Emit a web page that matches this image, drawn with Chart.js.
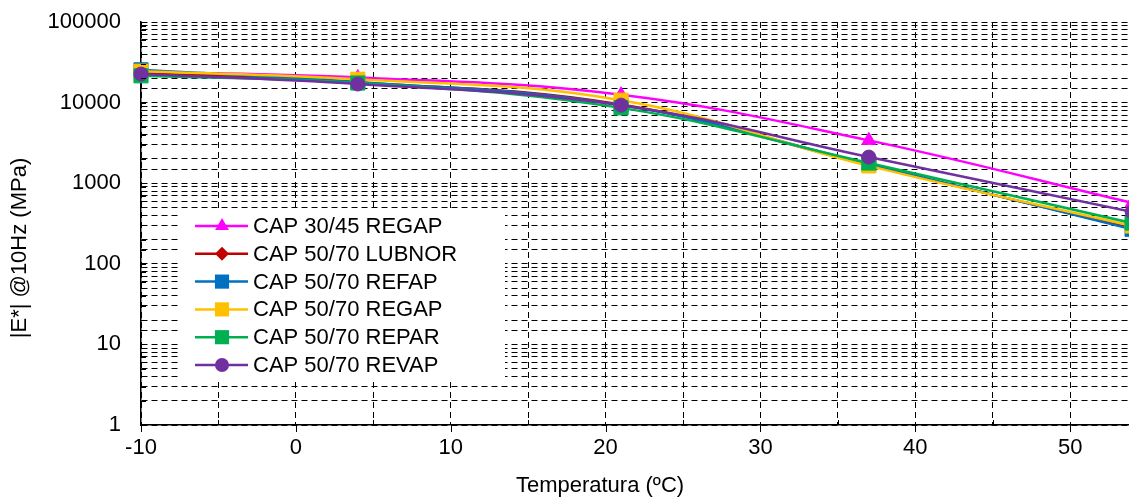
<!DOCTYPE html>
<html lang="pt">
<head>
    <meta charset="UTF-8">
    <title>|E*| @10Hz x Temperatura</title>
    <script src="https://cdn.jsdelivr.net/npm/chart.js"></script>
    <style>
        body {
            margin: 0;
            background: #ffffff;
            overflow: hidden;
        }

        canvas {
            display: block;
        }
    </style>
</head>
<body>
    <canvas id="grafico" width="1129" height="500"></canvas>

    <script>
        // Dados
        const temperaturas = [-10, 4, 21, 37, 54];
        const nomes = ['CAP 30/45 REGAP', 'CAP 50/70 LUBNOR', 'CAP 50/70 REFAP', 'CAP 50/70 REGAP', 'CAP 50/70 REPAR', 'CAP 50/70 REVAP'];
        const regap3045 = [24000, 20500, 12500, 3400, 570];
        const lubnor = [23500, 17800, 9500, 1690, 275];
        const refap = [25500, 18000, 9300, 1720, 268];
        const regap5070 = [24500, 19500, 10700, 1640, 295];
        const repar = [21500, 17500, 8600, 1780, 320];
        const revap = [22600, 17000, 9300, 2110, 440];

        const xTicks = [-10, -5, 0, 5, 10, 15, 20, 25, 30, 35, 40, 45, 50];
        const xTickLabels = [-10, 0, 10, 20, 30, 40, 50];
        const yTickLabels = [1, 10, 100, 1000, 10000, 100000];
        const tituloX = 'Temperatura (ºC)';
        const tituloY = '|E*| @10Hz (MPa)';

        const cores = ['#FF00FF', '#C00000', '#0070C0', '#FFC000', '#00B050', '#7030A0'];
        const marcadores = ['triangle', 'rectRot', 'rect', 'rect', 'rect', 'circle'];
        const raios = [8, 7, 10, 10, 10, 7];
        const series = [regap3045, lubnor, refap, regap5070, repar, revap];

        const fonte = "'Liberation Sans', Arial, sans-serif";

        const datasets = series.map((valores, i) => ({
            label: nomes[i],
            data: temperaturas.map((t, j) => ({ x: t, y: valores[j] })),
            borderColor: cores[i],
            backgroundColor: cores[i],
            borderWidth: 2.5,
            pointStyle: marcadores[i],
            pointRadius: raios[i],
            pointBorderWidth: 1,
            pointBackgroundColor: cores[i],
            pointBorderColor: cores[i],
            tension: 0.4,
            clip: false,
            order: series.length - i
        }));

        function desenhaMarcador(ctx, estilo, x, y, r) {
            ctx.beginPath();
            if (estilo === 'circle') {
                ctx.arc(x, y, r, 0, Math.PI * 2);
            } else if (estilo === 'rect') {
                const s = Math.SQRT1_2 * r;
                ctx.rect(x - s, y - s, 2 * s, 2 * s);
            } else if (estilo === 'rectRot') {
                ctx.moveTo(x, y - r);
                ctx.lineTo(x + r, y);
                ctx.lineTo(x, y + r);
                ctx.lineTo(x - r, y);
                ctx.closePath();
            } else if (estilo === 'triangle') {
                const a = Math.PI * 2 / 3;
                ctx.moveTo(x, y - r);
                ctx.lineTo(x + Math.sin(a) * r, y + r / 2);
                ctx.lineTo(x - Math.sin(a) * r, y + r / 2);
                ctx.closePath();
            }
            ctx.fill();
        }

        // Marcas de escala para dentro, títulos dos eixos e legenda dentro da área do gráfico
        const extras = {
            id: 'extras',
            afterDatasetsDraw(chart) {
                const ctx = chart.ctx;
                const area = chart.chartArea;
                const sx = chart.scales.x;
                const sy = chart.scales.y;
                ctx.save();
                ctx.strokeStyle = '#000';
                ctx.lineWidth = 1;
                sy.ticks.forEach(t => {
                    const y = Math.round(sy.getPixelForValue(t.value)) + 0.5;
                    ctx.beginPath();
                    ctx.moveTo(area.left, y);
                    ctx.lineTo(area.left + 5, y);
                    ctx.stroke();
                });
                sx.ticks.forEach(t => {
                    const x = Math.round(sx.getPixelForValue(t.value)) + 0.5;
                    ctx.beginPath();
                    if (t.value % 10 === 0) {
                        ctx.moveTo(x, area.bottom);
                        ctx.lineTo(x, area.bottom + 7);
                    } else {
                        ctx.moveTo(x, area.bottom);
                        ctx.lineTo(x, area.bottom - 5);
                    }
                    ctx.stroke();
                });

                // títulos dos eixos
                ctx.fillStyle = '#000';
                ctx.font = '22px ' + fonte;
                ctx.textAlign = 'center';
                ctx.textBaseline = 'middle';
                ctx.fillText(tituloX, 600, 486);
                ctx.save();
                ctx.translate(20, 248);
                ctx.rotate(-Math.PI / 2);
                ctx.fillText(tituloY, 0, 0);
                ctx.restore();

                // legenda
                ctx.textAlign = 'left';
                ctx.fillStyle = '#fff';
                ctx.fillRect(180, 208, 325, 172);
                chart.data.datasets.forEach((ds, i) => {
                    const y = 226 + i * 27.8;
                    ctx.strokeStyle = ds.borderColor;
                    ctx.lineWidth = 2.5;
                    ctx.beginPath();
                    ctx.moveTo(195, y);
                    ctx.lineTo(248, y);
                    ctx.stroke();
                    ctx.fillStyle = ds.borderColor;
                    desenhaMarcador(ctx, ds.pointStyle, 222, y, ds.pointRadius);
                    ctx.fillStyle = '#000';
                    ctx.fillText(ds.label, 253, y + 1);
                });
                ctx.restore();
            }
        };

        const ctx = document.getElementById('grafico').getContext('2d');
        const grafico = new Chart(ctx, {
            type: 'line',
            data: { datasets: datasets },
            plugins: [extras],
            options: {
                responsive: false,
                animation: false,
                layout: { autoPadding: false, padding: { top: 22, right: 0, left: 0, bottom: 0 } },
                plugins: {
                    legend: { display: false },
                    tooltip: { enabled: false }
                },
                scales: {
                    x: {
                        type: 'linear',
                        min: -10,
                        max: 53.8,
                        afterBuildTicks: scale => {
                            scale.ticks = xTicks.map(v => ({ value: v }));
                        },
                        afterFit: scale => {
                            scale.height = 75;
                            scale.paddingLeft = 0;
                            scale.paddingRight = 0;
                        },
                        ticks: {
                            autoSkip: false,
                            maxRotation: 0,
                            padding: 10,
                            color: '#000',
                            font: { family: fonte, size: 22 },
                            callback: v => xTickLabels.includes(v) ? String(v) : ''
                        },
                        grid: {
                            color: '#000',
                            lineWidth: 1,
                            drawTicks: false
                        },
                        border: { color: '#000', width: 1.5, dash: [6, 4] }
                    },
                    y: {
                        type: 'logarithmic',
                        min: 1,
                        max: 100000,
                        afterFit: scale => {
                            scale.width = 141;
                            scale.paddingTop = 0;
                            scale.paddingBottom = 0;
                        },
                        ticks: {
                            autoSkip: false,
                            padding: 20,
                            color: '#000',
                            font: { family: fonte, size: 22 },
                            callback: v => yTickLabels.includes(v) ? String(v) : ''
                        },
                        grid: {
                            color: '#000',
                            lineWidth: 1,
                            drawTicks: false
                        },
                        border: { color: '#000', width: 1.5, dash: [6, 4] }
                    }
                }
            }
        });
    </script>
</body>
</html>
